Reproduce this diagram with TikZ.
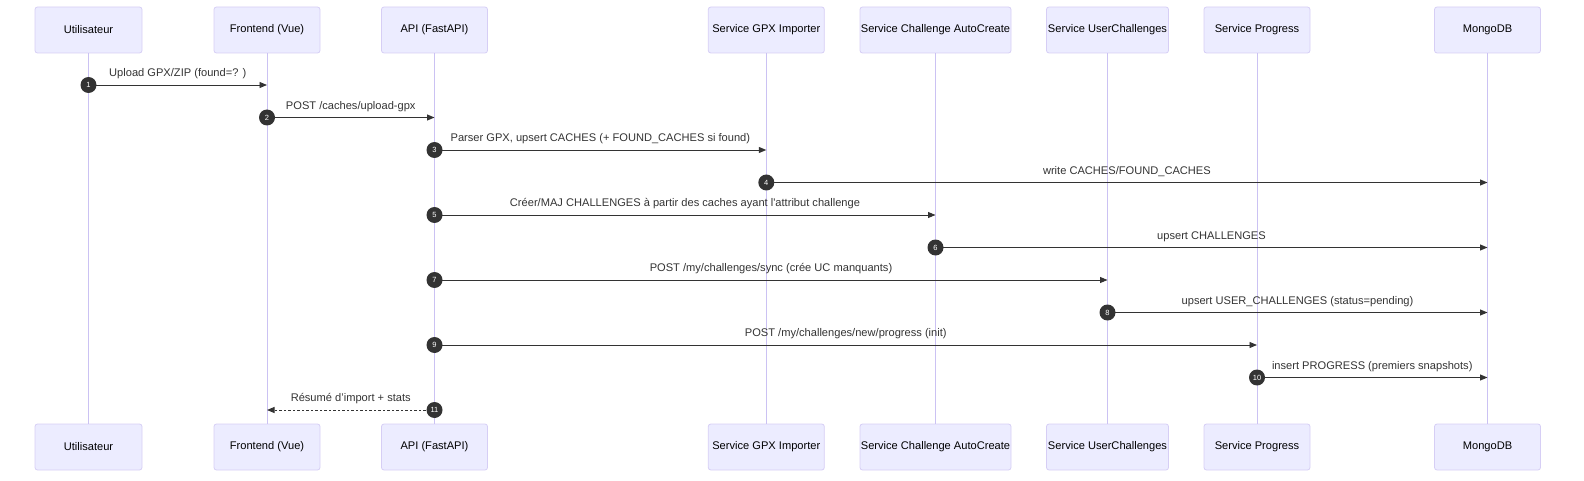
\documentclass[tikz,border=0pt]{standalone}
\usepackage{fontspec}
\setmainfont{Liberation Sans}
\usetikzlibrary{arrows.meta,calc}
\definecolor{actfill}{HTML}{ECECFF}
\definecolor{actborder}{HTML}{D6CEF5}
\definecolor{lifecol}{HTML}{CBC2F3}
\definecolor{msgcol}{HTML}{333333}
\tikzset{
  actor/.style={draw=actborder, fill=actfill, rounded corners=2.5pt, minimum height=46pt, inner sep=0pt, font=\fontsize{11.1pt}{13pt}\selectfont, text=black, line width=0.8pt},
  lifeline/.style={draw=lifecol, line width=1pt},
  msg/.style={draw=msgcol, line width=0.95pt, -{Triangle[length=7.5pt,width=6pt]}},
  rmsg/.style={msg, dash pattern=on 2.5pt off 2pt},
  num/.style={circle, fill=msgcol, text=white, minimum size=16pt, inner sep=0pt, font=\fontsize{7.5pt}{8pt}\selectfont},
  lbl/.style={text=msgcol, font=\fontsize{11.1pt}{13pt}\selectfont, inner sep=0pt}
}
\begin{document}
\begin{tikzpicture}[x=1pt,y=-1pt]
\useasboundingbox (0,0) rectangle (1584,481);
% actors: name, center x, width, label
\foreach \n/\x/\w/\t in {U/88.5/107/Utilisateur, F/267/106/Frontend (Vue), A/434.5/106/API (FastAPI), G/766.3/116/Service GPX Importer, C/935.5/151/Service Challenge AutoCreate, UC/1107.5/122/Service UserChallenges, P/1257/106/Service Progress, M/1487.5/106/MongoDB}{
  \node[actor, minimum width=\w pt] (\n-top) at (\x,30) {\t};
  \node[actor, minimum width=\w pt] (\n-bot) at (\x,447) {\t};
  \draw[lifeline] (\n-top.south) -- (\n-bot.north);
}
% messages
\foreach \i/\s/\d/\y/\t in {
 1/U/F/85/{Upload GPX/ZIP (found=? )},
 2/F/A/117.5/{POST /caches/upload-gpx},
 3/A/G/150/{Parser GPX, upsert CACHES (+ FOUND\_CACHES si found)},
 4/G/M/182.5/{write CACHES/FOUND\_CACHES},
 5/A/C/215/{Créer/MAJ CHALLENGES à partir des caches ayant l\textquotesingle attribut challenge},
 6/C/M/247.5/{upsert CHALLENGES},
 7/A/UC/280/{POST /my/challenges/sync (crée UC manquants)},
 8/UC/M/312.5/{upsert USER\_CHALLENGES (status=pending)},
 9/A/P/345/{POST /my/challenges/new/progress (init)},
 10/P/M/377.5/{insert PROGRESS (premiers snapshots)}}{
  \coordinate (s\i) at (\s-top.center |- 0,\y);
  \coordinate (e\i) at (\d-top.center |- 0,\y);
  \draw[msg] (s\i) -- (e\i);
  \node[num] (n\i) at (s\i) {\i};
  \node[lbl] (l\i) at ($(s\i)!0.5!(e\i)+(0,-11)$) {\t};
}
\coordinate (s11) at (A-top.center |- 0,410);
\coordinate (e11) at (F-top.center |- 0,410);
\draw[rmsg] (s11) -- (e11);
\node[num] (n11) at (s11) {11};
\node[lbl] (l11) at ($(s11)!0.5!(e11)+(0,-11)$) {Résumé d’import + stats};
\end{tikzpicture}
\end{document}
